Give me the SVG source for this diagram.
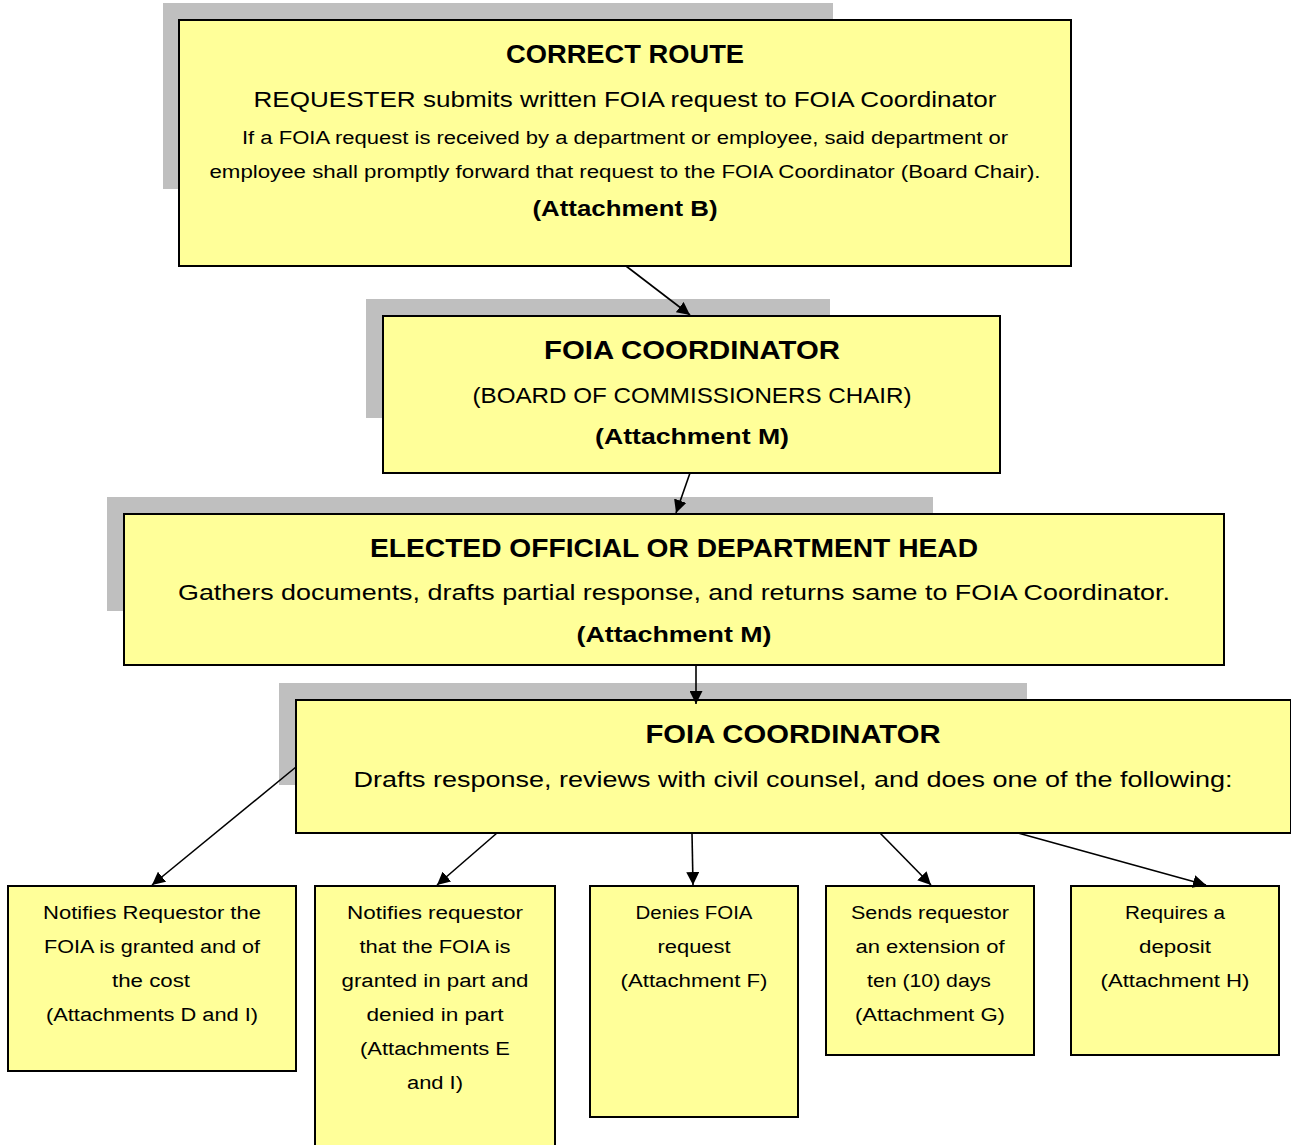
<svg xmlns="http://www.w3.org/2000/svg" width="1291" height="1145" viewBox="0 0 1291 1145">
<style>
.sh{fill:#bfbfbf}
.bx{fill:#ffff99;stroke:#000;stroke-width:2}
text{font-family:"Liberation Sans",Arial,sans-serif;fill:#000;text-anchor:middle}
.t{font-size:26px;font-weight:bold}
.m{font-size:21.5px}
.mb{font-size:21.5px;font-weight:bold}
.s{font-size:18px}
.cn line{stroke:#000;stroke-width:1.6;marker-end:url(#ah)}
</style>
<defs>
<marker id="ah" viewBox="0 0 10 10" refX="10" refY="5" markerWidth="13" markerHeight="13" markerUnits="userSpaceOnUse" orient="auto">
<path d="M0,0 L10,5 L0,10 z" fill="#000"/>
</marker>
</defs>
<rect width="1291" height="1145" fill="#fff"/>
<g id="n1">
<rect class="sh" x="163" y="3" width="670" height="186"/>
<rect class="bx" x="179" y="20" width="892" height="246"/>
<text class="t" x="625" y="63" textLength="238" lengthAdjust="spacingAndGlyphs">CORRECT ROUTE</text>
<text class="m" x="625" y="107" textLength="743" lengthAdjust="spacingAndGlyphs">REQUESTER submits written FOIA request to FOIA Coordinator</text>
<text class="s" x="625" y="144" textLength="766" lengthAdjust="spacingAndGlyphs">If a FOIA request is received by a department or employee, said department or</text>
<text class="s" x="625" y="178" textLength="831" lengthAdjust="spacingAndGlyphs">employee shall promptly forward that request to the FOIA Coordinator (Board Chair).</text>
<text class="mb" x="625" y="216" textLength="185" lengthAdjust="spacingAndGlyphs">(Attachment B)</text>
</g>
<g id="n2">
<rect class="sh" x="366" y="299" width="464" height="119"/>
<rect class="bx" x="383" y="316" width="617" height="157"/>
<text class="t" x="692" y="359" textLength="296" lengthAdjust="spacingAndGlyphs">FOIA COORDINATOR</text>
<text class="m" x="692" y="403" textLength="439" lengthAdjust="spacingAndGlyphs">(BOARD OF COMMISSIONERS CHAIR)</text>
<text class="mb" x="692" y="444" textLength="194" lengthAdjust="spacingAndGlyphs">(Attachment M)</text>
</g>
<g id="n3">
<rect class="sh" x="107" y="497" width="826" height="114"/>
<rect class="bx" x="124" y="514" width="1100" height="151"/>
<text class="t" x="674" y="557" textLength="608" lengthAdjust="spacingAndGlyphs">ELECTED OFFICIAL OR DEPARTMENT HEAD</text>
<text class="m" x="674" y="600" textLength="992" lengthAdjust="spacingAndGlyphs">Gathers documents, drafts partial response, and returns same to FOIA Coordinator.</text>
<text class="mb" x="674" y="642" textLength="195" lengthAdjust="spacingAndGlyphs">(Attachment M)</text>
</g>
<g id="n4">
<rect class="sh" x="279" y="683" width="748" height="102"/>
<rect class="bx" x="296" y="700" width="995" height="133"/>
<text class="t" x="793" y="743" textLength="295" lengthAdjust="spacingAndGlyphs">FOIA COORDINATOR</text>
<text class="m" x="793" y="787" textLength="879" lengthAdjust="spacingAndGlyphs">Drafts response, reviews with civil counsel, and does one of the following:</text>
</g>
<g id="b1">
<rect class="bx" x="8" y="886" width="288" height="185"/>
<text class="s" x="152" y="919" textLength="218" lengthAdjust="spacingAndGlyphs">Notifies Requestor the</text>
<text class="s" x="152" y="953" textLength="216" lengthAdjust="spacingAndGlyphs">FOIA is granted and of</text>
<text class="s" x="151" y="987" textLength="78" lengthAdjust="spacingAndGlyphs">the cost</text>
<text class="s" x="152" y="1021" textLength="212" lengthAdjust="spacingAndGlyphs">(Attachments D and I)</text>
</g>
<g id="b2">
<rect class="bx" x="315" y="886" width="240" height="262"/>
<text class="s" x="435" y="919" textLength="176" lengthAdjust="spacingAndGlyphs">Notifies requestor</text>
<text class="s" x="435" y="953" textLength="151" lengthAdjust="spacingAndGlyphs">that the FOIA is</text>
<text class="s" x="435" y="987" textLength="187" lengthAdjust="spacingAndGlyphs">granted in part and</text>
<text class="s" x="435" y="1021" textLength="137" lengthAdjust="spacingAndGlyphs">denied in part</text>
<text class="s" x="435" y="1055" textLength="150" lengthAdjust="spacingAndGlyphs">(Attachments E</text>
<text class="s" x="435" y="1089" textLength="56" lengthAdjust="spacingAndGlyphs">and I)</text>
</g>
<g id="b3">
<rect class="bx" x="590" y="886" width="208" height="231"/>
<text class="s" x="694" y="919" textLength="117" lengthAdjust="spacingAndGlyphs">Denies FOIA</text>
<text class="s" x="694" y="953" textLength="73" lengthAdjust="spacingAndGlyphs">request</text>
<text class="s" x="694" y="987" textLength="147" lengthAdjust="spacingAndGlyphs">(Attachment F)</text>
</g>
<g id="b4">
<rect class="bx" x="826" y="886" width="208" height="169"/>
<text class="s" x="930" y="919" textLength="158" lengthAdjust="spacingAndGlyphs">Sends requestor</text>
<text class="s" x="930" y="953" textLength="149" lengthAdjust="spacingAndGlyphs">an extension of</text>
<text class="s" x="929" y="987" textLength="124" lengthAdjust="spacingAndGlyphs">ten (10) days</text>
<text class="s" x="930" y="1021" textLength="150" lengthAdjust="spacingAndGlyphs">(Attachment G)</text>
</g>
<g id="b5">
<rect class="bx" x="1071" y="886" width="208" height="169"/>
<text class="s" x="1175" y="919" textLength="100" lengthAdjust="spacingAndGlyphs">Requires a</text>
<text class="s" x="1175" y="953" textLength="72" lengthAdjust="spacingAndGlyphs">deposit</text>
<text class="s" x="1175" y="987" textLength="149" lengthAdjust="spacingAndGlyphs">(Attachment H)</text>
</g>
<g id="connectors" class="cn">
<line x1="626" y1="266" x2="690" y2="315"/>
<line x1="690" y1="473" x2="676" y2="513"/>
<line x1="696" y1="665" x2="696" y2="704"/>
<line x1="296" y1="767" x2="152" y2="885"/>
<line x1="497" y1="833" x2="437" y2="885"/>
<line x1="692" y1="833" x2="693" y2="885"/>
<line x1="880" y1="833" x2="931" y2="885"/>
<line x1="1018" y1="833" x2="1206" y2="885"/>
</g>
</svg>
